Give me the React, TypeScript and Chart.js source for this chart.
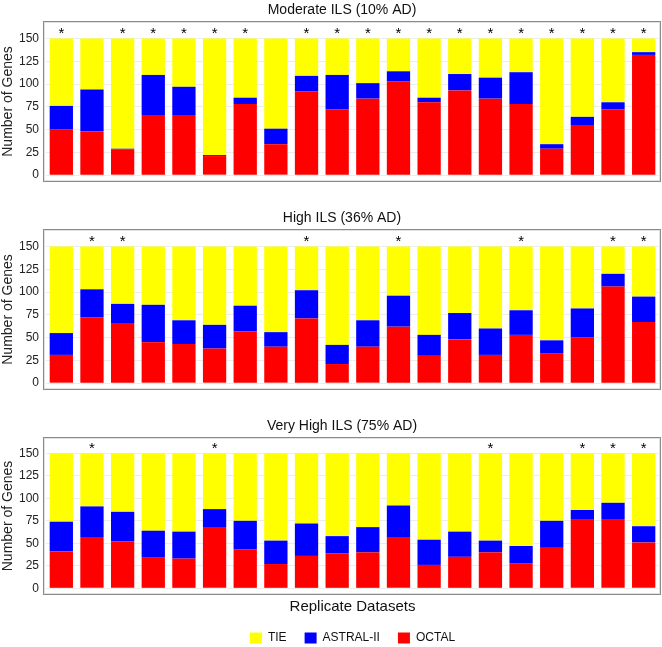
import React, { useEffect, useRef } from 'react';
import { Chart, registerables } from 'chart.js';

Chart.register(...registerables);

// ---------------- data ----------------
const replicateLabels = ['1', '2', '3', '4', '5', '6', '7', '8', '9', '10', '11', '12', '13', '14', '15', '16', '17', '18', '19', '20'];
const yTickValues = [0, 25, 50, 75, 100, 125, 150];
const seriesNames = ['OCTAL', 'ASTRAL-II', 'TIE'];
const axisTitleY = 'Number of Genes';
const axisTitleX = 'Replicate Datasets';

const moderateTitle = 'Moderate ILS (10% AD)';
const moderateOctal = [50, 48, 28, 66, 66, 21, 78, 34, 92, 72, 84, 103, 80, 93, 84, 78, 29, 55, 72, 132];
const moderateAstral = [26, 46, 1, 44, 31, 1, 7, 17, 17, 38, 17, 11, 5, 18, 23, 35, 5, 9, 8, 3];
const moderateTie = [74, 56, 121, 40, 53, 128, 65, 99, 41, 40, 49, 36, 65, 39, 43, 37, 116, 86, 70, 15];
const moderateStars = [1, 0, 1, 1, 1, 1, 1, 0, 1, 1, 1, 1, 1, 1, 1, 1, 1, 1, 1, 1];

const highTitle = 'High ILS (36% AD)';
const highOctal = [31, 72, 66, 45, 43, 38, 57, 40, 71, 21, 40, 62, 30, 48, 31, 53, 33, 50, 106, 67];
const highAstral = [24, 31, 21, 41, 26, 26, 28, 16, 31, 21, 29, 34, 23, 29, 29, 27, 14, 32, 14, 28];
const highTie = [95, 47, 63, 64, 81, 86, 65, 94, 48, 108, 81, 54, 97, 73, 90, 70, 103, 68, 30, 55];
const highStars = [0, 1, 1, 0, 0, 0, 0, 0, 1, 0, 0, 1, 0, 0, 0, 1, 0, 0, 1, 1];

const veryHighTitle = 'Very High ILS (75% AD)';
const veryHighOctal = [41, 57, 52, 34, 33, 68, 43, 27, 36, 39, 40, 57, 26, 35, 40, 28, 45, 77, 77, 51];
const veryHighAstral = [33, 34, 33, 30, 30, 20, 32, 26, 36, 19, 28, 35, 28, 28, 13, 19, 30, 10, 18, 18];
const veryHighTie = [76, 59, 65, 86, 87, 62, 75, 97, 78, 92, 82, 58, 96, 87, 97, 103, 75, 63, 55, 81];
const veryHighStars = [0, 1, 0, 0, 0, 1, 0, 0, 0, 0, 0, 0, 0, 0, 1, 0, 0, 1, 1, 1];

// ---------------- styles / layout ----------------
const FONT = '"Liberation Sans", Arial, Helvetica, sans-serif';
const COLORS = ['#ff0000', '#0000ff', '#ffff00'];

type PanelCfg = {
  title: string;
  octal: number[];
  astral: number[];
  tie: number[];
  stars: number[];
  top: number;
  height: number;
  padBottom: number;
  yMin: number;
  yMax: number;
  last: boolean;
};

const panels: PanelCfg[] = [
  { title: moderateTitle, octal: moderateOctal, astral: moderateAstral, tie: moderateTie, stars: moderateStars, top: 0, height: 208, padBottom: 26, yMin: -7.5, yMax: 169.2, last: false },
  { title: highTitle, octal: highOctal, astral: highAstral, tie: highTie, stars: highStars, top: 208, height: 208, padBottom: 26, yMin: -7.5, yMax: 169.2, last: false },
  { title: veryHighTitle, octal: veryHighOctal, astral: veryHighAstral, tie: veryHighTie, stars: veryHighStars, top: 416, height: 238, padBottom: 0, yMin: -7.4, yMax: 168.1, last: true },
];

const decorPlugin = {
  id: 'panelDecor',
  afterDraw(chart: any, _args: any, opts: any) {
    const { ctx, chartArea: a } = chart;
    const xs = chart.scales.x;
    const ys = chart.scales.y;
    ctx.save();
    // frame
    const l = a.left - 3;
    const r = a.right + 2;
    ctx.strokeStyle = '#e2e2e2';
    ctx.lineWidth = 1;
    ctx.strokeRect(l + 1.5, a.top + 1.5, r - l - 3, a.bottom - a.top - 3);
    ctx.strokeStyle = '#8a8a8a';
    ctx.lineWidth = 1;
    ctx.strokeRect(l + 0.5, a.top + 0.5, r - l - 1, a.bottom - a.top - 1);
    // stars
    ctx.fillStyle = '#000';
    ctx.font = `15px ${FONT}`;
    ctx.textAlign = 'center';
    ctx.textBaseline = 'alphabetic';
    const yStar = ys.getPixelForValue(150);
    (opts.stars || []).forEach((s: number, i: number) => {
      if (s) ctx.fillText('*', xs.getPixelForValue(i), yStar);
    });
    // title
    ctx.font = `14px ${FONT}`;
    ctx.textBaseline = 'middle';
    ctx.fillStyle = '#111';
    ctx.fillText(opts.title || '', 342, 10.5);
    ctx.restore();
  },
};

function Panel({ cfg }: { cfg: PanelCfg }) {
  const ref = useRef<HTMLCanvasElement>(null);
  useEffect(() => {
    const values = [cfg.octal, cfg.astral, cfg.tie];
    const chart = new Chart(ref.current as HTMLCanvasElement, {
      type: 'bar',
      data: {
        labels: replicateLabels,
        datasets: seriesNames.map((name, k) => ({
          label: name,
          data: values[k],
          backgroundColor: COLORS[k],
          borderWidth: 0,
        })),
      },
      options: {
        responsive: false,
        animation: false,
        devicePixelRatio: 1,
        layout: { padding: { top: 21, right: 3, left: 0, bottom: cfg.padBottom } },
        datasets: { bar: { barPercentage: 0.76, categoryPercentage: 1 } },
        scales: {
          x: {
            stacked: true,
            display: cfg.last,
            ticks: { display: false },
            grid: { display: false },
            border: { display: false },
            title: {
              display: cfg.last,
              text: axisTitleX,
              font: { size: 15, family: FONT },
              color: '#111',
              padding: { top: 0, bottom: -2 },
            },
            afterFit: (s: any) => {
              if (cfg.last) s.height = 19;
            },
          },
          y: {
            stacked: true,
            min: cfg.yMin,
            max: cfg.yMax,
            afterBuildTicks: (s: any) => {
              s.ticks = yTickValues.map((v) => ({ value: v }));
            },
            afterFit: (s: any) => {
              s.width = 46;
            },
            ticks: { padding: 7, font: { size: 12, family: FONT }, color: '#222' },
            grid: { color: '#ececec', drawTicks: false },
            border: { display: false },
            title: {
              display: true,
              text: axisTitleY,
              font: { size: 14, family: FONT },
              color: '#222',
              padding: 0,
            },
          },
        },
        plugins: {
          legend: {
            display: cfg.last,
            position: 'bottom',
            fullSize: false,
            reverse: true,
            labels: {
              boxWidth: 12,
              boxHeight: 11,
              padding: 18,
              font: { size: 12, family: FONT },
              color: '#111',
            },
          },
          tooltip: { enabled: false },
          panelDecor: { title: cfg.title, stars: cfg.stars },
        } as any,
      },
      plugins: [decorPlugin],
    });
    return () => chart.destroy();
  }, [cfg]);
  return (
    <canvas
      ref={ref}
      width={662}
      height={cfg.height}
      style={{ position: 'absolute', left: 0, top: cfg.top, width: 662, height: cfg.height, display: 'block' }}
    />
  );
}

export default function App() {
  return (
    <div style={{ position: 'absolute', left: 0, top: 0, width: 662, height: 647, overflow: 'hidden', background: '#fff' }}>
      {panels.map((p) => (
        <Panel key={p.title} cfg={p} />
      ))}
    </div>
  );
}
